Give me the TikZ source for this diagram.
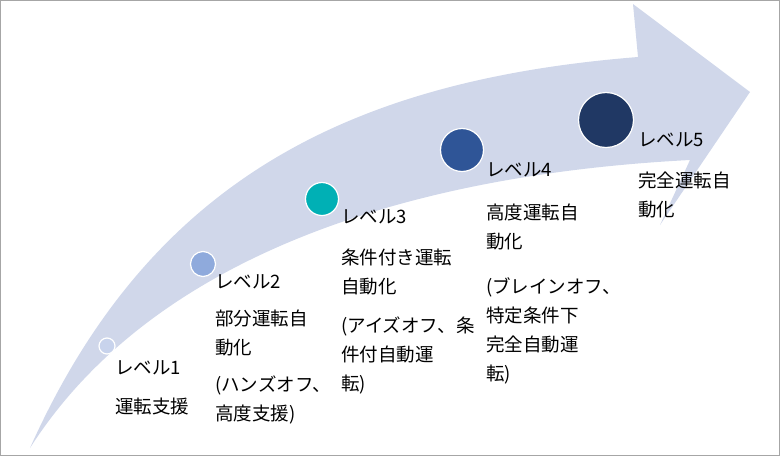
\documentclass[tikz,border=0pt]{standalone}
\usepackage{fontspec}
\setmainfont{Noto Sans CJK JP}
\begin{document}
\begin{tikzpicture}[x=1pt,y=-1pt,
    lvl/.style={circle, draw=white, line width=1.2pt, inner sep=0pt},
    txt/.style={anchor=north west, align=left, inner sep=0pt, font=\fontsize{18.5}{29}\selectfont}]
    % Rahmen
    \draw[gray!70, line width=1pt] (0.5,0.5) rectangle (779.5,455.5);
    \useasboundingbox (0,0) rectangle (780,456);
    % Pfeil
    \fill[fill={rgb,255:red,208;green,215;blue,234}]
        (30,448) .. controls (150,180) and (350,80) .. (638,57)
        -- (633,4) -- (750,92) -- (660,225) -- (690,160)
        .. controls (400,175) and (150,260) .. (30,448) -- cycle;
    % Stufen
    \node[lvl, minimum size=16pt, fill={rgb,255:red,200;green,211;blue,236}] (c1) at (107,346) {};
    \node[lvl, minimum size=25pt, fill={rgb,255:red,143;green,170;blue,220}] (c2) at (203,264) {};
    \node[lvl, minimum size=33pt, fill={rgb,255:red,0;green,176;blue,181}] (c3) at (322,199) {};
    \node[lvl, minimum size=43pt, fill={rgb,255:red,47;green,85;blue,151}] (c4) at (462,150) {};
    \node[lvl, minimum size=55pt, fill={rgb,255:red,32;green,56;blue,100}] (c5) at (606,120) {};
    % Texte
    \node[txt] (t1) at (115,360) {レベル1\\[10pt]運転支援};
    \node[txt] (t2) at (215,274) {レベル2\\[8pt]部分運転自\\動化\\[8pt](ハンズオフ、\\高度支援)};
    \node[txt] (t3) at (341,209) {レベル3\\[12pt]条件付き運転\\自動化\\[10pt](アイズオフ、条\\件付自動運\\転)};
    \node[txt] (t4) at (486,162) {レベル4\\[14pt]高度運転自\\動化\\[16pt](ブレインオフ、\\特定条件下\\完全自動運\\転)};
    \node[txt] (t5) at (638,132) {レベル5\\[12pt]完全運転自\\動化};
\end{tikzpicture}
\end{document}
